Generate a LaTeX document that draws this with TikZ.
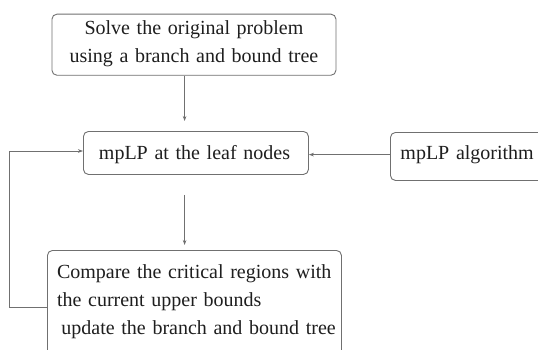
\documentclass[tikz,border=0pt]{standalone}
\usepackage{fontspec}
\setmainfont{Liberation Serif}
\usetikzlibrary{arrows.meta}
\definecolor{boxline}{HTML}{707070}
\definecolor{txt}{HTML}{1E1E1E}
\tikzset{
  flowbox/.style={draw=boxline, line width=0.9pt, rounded corners=5pt, inner ysep=0pt,
    font=\fontsize{20pt}{28pt}\selectfont, text=txt, anchor=north west},
  conn/.style={draw=boxline, line width=0.9pt, -{Stealth[length=5pt,width=3.6pt,fill=txt]}},
  plainline/.style={draw=boxline, line width=0.9pt}
}
\begin{document}
\begin{tikzpicture}[x=1pt, y=-1pt]
\useasboundingbox (0,0) rectangle (538,349);
\clip (0,0) rectangle (538,349);
\fill[white] (0,0) rectangle (538,349);
\node[flowbox, inner xsep=4pt, text width=276pt, align=center, text height=20.6pt, text depth=40.5pt]
  (top) at (51.5,13.7) {Solve the original problem\\using a branch and bound tree};
\node[flowbox, inner xsep=15.5pt, text width=194pt, align=left, text height=28pt, text depth=15pt]
  (mid) at (83,131) {mpLP at the leaf nodes};
\node[flowbox, inner xsep=10pt, text width=150pt, align=left, text height=27pt, text depth=21pt]
  (alg) at (390,132) {mpLP algorithm};
\node[flowbox, inner xsep=9.6pt, text width=274.8pt, align=left, text height=28pt, text depth=120pt]
  (cmp) at (47,250) {\mbox{Compare the critical regions with}\\\mbox{the current upper bounds}\\\mbox{\hspace*{4.4pt}update the branch and bound tree}};
\coordinate (ax) at (184.6,0);
\coordinate (ay) at (0,154.6);
\coordinate (c1) at (9.5,307);
\coordinate (c2) at (9.5,151);
\draw[conn, shorten >=10pt] (top.south -| ax) -- (mid.north -| ax);
\draw[conn, shorten <=20pt, shorten >=5pt] (mid.south -| ax) -- (cmp.north -| ax);
\draw[conn] (alg.west |- ay) -- (mid.east |- ay);
\draw[conn] (cmp.west |- c1) -- (c1) -- (c2) -- (mid.west |- c2);
\end{tikzpicture}
\end{document}
